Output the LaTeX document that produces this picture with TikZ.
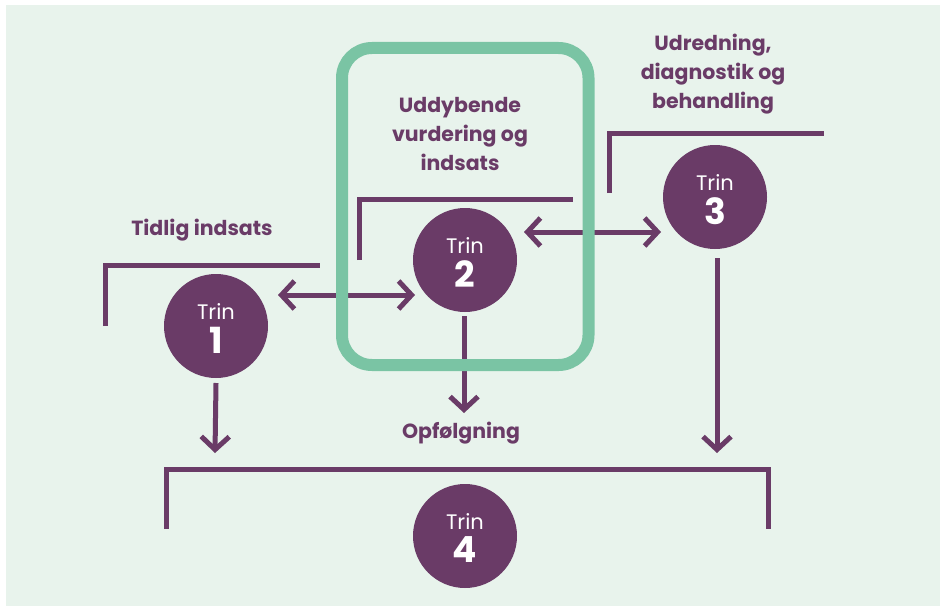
\documentclass[tikz,border=0pt]{standalone}
\usepackage{fontspec}
\setmainfont{Poppins}
\usetikzlibrary{arrows.meta}
\definecolor{bg}{RGB}{232,243,236}
\definecolor{pur}{RGB}{106,59,103}
\definecolor{grn}{RGB}{122,196,164}
\begin{document}
\begin{tikzpicture}[x=1pt,y=-1pt,
  line/.style={draw=pur,line width=5pt},
  tipb/.tip={Straight Barb[length=13pt,width=28pt,line width=5pt]},
  arr/.style={line,-tipb},
  darr/.style={line,tipb-tipb},
  trin/.style={circle,fill=pur,minimum size=104pt,inner sep=0pt},
  trinlbl/.style={text=white,inner sep=0pt,font=\fontsize{21}{21}\selectfont},
  trinnum/.style={text=white,inner sep=0pt,font=\fontsize{36}{36}\selectfont\bfseries},
  head/.style={text=pur,align=center,inner sep=0pt,font=\fontsize{20.5}{29}\selectfont\bfseries}]
\useasboundingbox (0,0) rectangle (941,607);
\fill[white] (0,0) rectangle (941,607);
\fill[bg] (6,5) rectangle (940,606);

% circles
\node[trin] (t1) at (216,326) {};
\node[trin] (t2) at (465,260) {};
\node[trin] (t3) at (715,197) {};
\node[trin] (t4) at (465,536) {};
\foreach \n/\x/\y in {1/216/326,2/465/260,3/715/197,4/465/536}{
  \node[trinlbl] (l\n) at (\x,\y-14) {Trin};
  \node[trinnum] (n\n) at (\x,\y+14) {\n};
}

% brackets
\draw[line] (105,326) -- (105,265) -- (320,265);
\draw[line] (359,260) -- (359,199) -- (573,199);
\draw[line] (609,193) -- (609,133) -- (824,133);
\draw[line] (166,529) -- (166,469) -- (768,469) -- (768,529);

% arrows
\coordinate (a1l) at (278,295);
\coordinate (a1r) at (415,295);
\coordinate (a2l) at (524,232);
\coordinate (a2r) at (661,232);
\draw[darr] (a1l) -- (a1r);
\draw[darr] (a2l) -- (a2r);
\coordinate (d1) at (215,453);
\coordinate (d2) at (464,413);
\coordinate (d3) at (717,453);
\draw[arr] (t1.south |- 0,383) -- (d1);
\draw[arr] (464,316) -- (d2);
\draw[arr] (717,258) -- (d3);

% green box
\draw[grn,line width=12pt,rounded corners=30pt] (342,48) rectangle (588.5,365);

% texts
\node[head] (h1) at (202,230) {Tidlig indsats};
\node[head] (h2) at (460,134) {Uddybende\\vurdering og\\indsats};
\node[head] (h3) at (713,74) {Udredning,\\diagnostik og\\behandling};
\node[head] (h4) at (461,433) {Opfølgning};
\end{tikzpicture}
\end{document}
